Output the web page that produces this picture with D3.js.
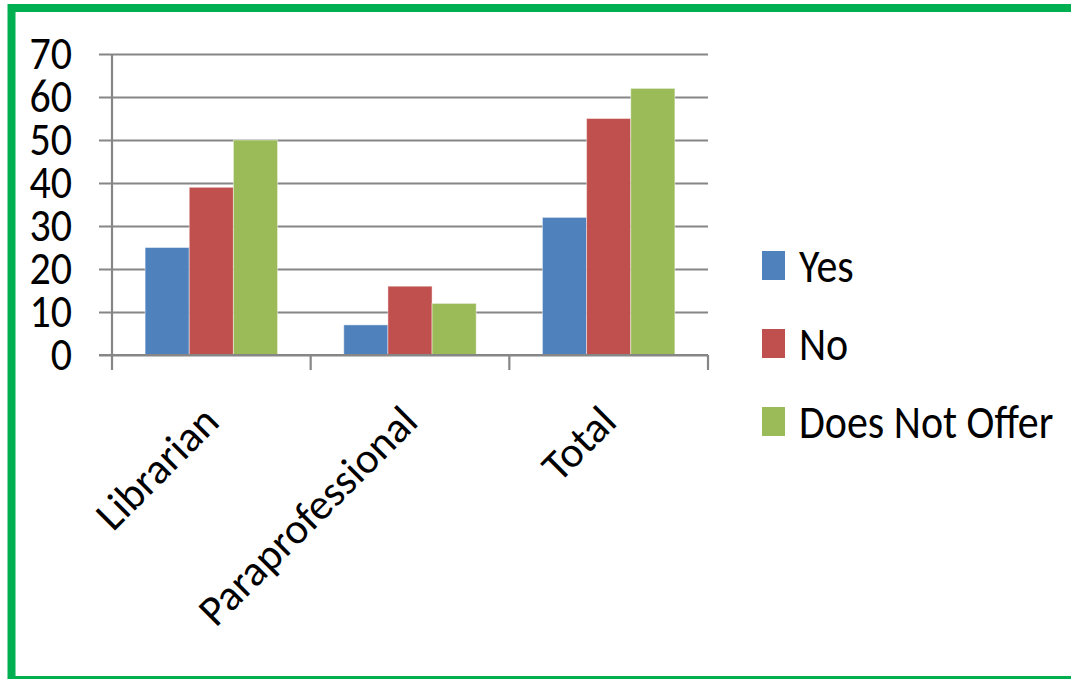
<!DOCTYPE html>
<html>
<head>
<meta charset="utf-8">
<script src="https://cdn.jsdelivr.net/npm/d3@7"></script>
<style>
  html, body { margin: 0; padding: 0; background: #fff; }
  svg { display: block; }
  text { font-family: Carlito, Calibri, Lato, sans-serif; fill: #000; }
</style>
</head>
<body>
<div id="vis"></div>
<script>
// chart data
const categories = ['Librarian', 'Paraprofessional', 'Total'];
const seriesNames = ['Yes', 'No', 'Does Not Offer'];
const yesValues = [25, 7, 32];
const noValues = [39, 16, 55];
const notOfferValues = [50, 12, 62];
const yTicks = [0, 10, 20, 30, 40, 50, 60, 70];
const seriesColors = ['#4f81bd', '#c0504d', '#9bbb59'];

const width = 1071;
const height = 679;
const fontSize = 42;
// the source picture is a little taller than wide in its text
const stretchY = 1.11;

const svg = d3.select('#vis')
  .append('svg')
  .attr('width', width)
  .attr('height', height);

// green frame round the whole chart (right side runs off the picture)
svg.append('rect')
  .attr('x', 11.5)
  .attr('y', 8)
  .attr('width', 1100)
  .attr('height', 672)
  .attr('fill', '#fff')
  .attr('stroke', '#00b050')
  .attr('stroke-width', 8);

// plot area
const plot = { left: 112, right: 708, top: 54, bottom: 355 };

const x0 = d3.scaleBand()
  .domain(categories)
  .range([plot.left, plot.right])
  .padding(0);

const x1 = d3.scaleBand()
  .domain(seriesNames)
  .range([0, x0.bandwidth()])
  .paddingInner(0)
  .paddingOuter(0.75);

const y = d3.scaleLinear()
  .domain([0, 70])
  .range([plot.bottom, plot.top]);

const color = d3.scaleOrdinal()
  .domain(seriesNames)
  .range(seriesColors);

// gridlines + y labels from the axis generator
const yAxis = d3.axisLeft(y)
  .tickValues(yTicks)
  .tickSize(-(plot.right - 99))
  .tickPadding(27);

const yg = svg.append('g')
  .attr('transform', 'translate(99,0)')
  .call(yAxis);

yg.select('.domain').remove();
yg.selectAll('.tick line')
  .attr('stroke', '#868686')
  .attr('stroke-width', 2.2);
yg.selectAll('.tick text')
  .style('font-size', fontSize + 'px')
  .attr('dy', '0.32em')
  .attr('transform', 'scale(1,' + stretchY + ')');

// vertical axis line
svg.append('line')
  .attr('x1', plot.left).attr('x2', plot.left)
  .attr('y1', plot.top).attr('y2', plot.bottom + 15)
  .attr('stroke', '#868686')
  .attr('stroke-width', 2.2);

// category boundary ticks under the baseline
const boundaries = categories.map(c => x0(c)).concat([plot.right]);
svg.selectAll('.xtick')
  .data(boundaries.slice(1))
  .enter().append('line')
  .attr('class', 'xtick')
  .attr('x1', d => d).attr('x2', d => d)
  .attr('y1', plot.bottom).attr('y2', plot.bottom + 15)
  .attr('stroke', '#868686')
  .attr('stroke-width', 2.2);

// bars
const rows = categories.map((c, i) => ({
  category: c,
  values: [
    { series: 'Yes', value: yesValues[i] },
    { series: 'No', value: noValues[i] },
    { series: 'Does Not Offer', value: notOfferValues[i] }
  ]
}));

const groups = svg.selectAll('.group')
  .data(rows)
  .enter().append('g')
  .attr('class', 'group')
  .attr('transform', d => 'translate(' + x0(d.category) + ',0)');

groups.selectAll('rect')
  .data(d => d.values)
  .enter().append('rect')
  .attr('x', d => x1(d.series))
  .attr('y', d => y(d.value))
  .attr('width', x1.bandwidth())
  .attr('height', d => y(0) - y(d.value))
  .attr('fill', d => color(d.series))
  .attr('stroke', 'rgba(255,255,255,0.45)')
  .attr('stroke-width', 1);

// redraw baseline over the bars
svg.append('line')
  .attr('x1', 99).attr('x2', plot.right)
  .attr('y1', plot.bottom).attr('y2', plot.bottom)
  .attr('stroke', '#868686')
  .attr('stroke-width', 2.2);

// rotated category labels
svg.selectAll('.xlabel')
  .data(categories)
  .enter().append('text')
  .attr('class', 'xlabel')
  .attr('text-anchor', 'end')
  .style('font-size', '43px')
  .attr('transform', d => {
    let cx = x0(d) + x0.bandwidth() / 2 + 10;
    return 'translate(' + cx + ',424) rotate(-45)';
  })
  .text(d => d);

// legend
const legend = svg.selectAll('.legend')
  .data(seriesNames)
  .enter().append('g')
  .attr('class', 'legend')
  .attr('transform', (d, i) => 'translate(762,' + (282 + i * 78) + ')');

legend.append('rect')
  .attr('x', 0)
  .attr('y', -31)
  .attr('width', 23)
  .attr('height', 29)
  .attr('fill', d => color(d));

legend.append('text')
  .attr('transform', 'translate(37,0) scale(1,' + stretchY + ')')
  .style('font-size', fontSize + 'px')
  .text(d => d);
</script>
</body>
</html>
